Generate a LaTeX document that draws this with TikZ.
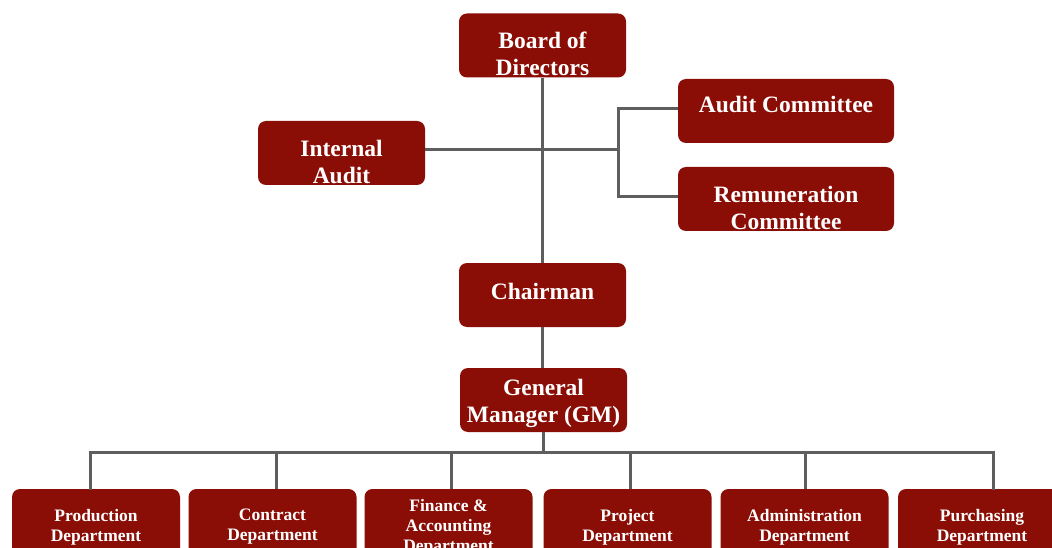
\documentclass[tikz,border=0pt]{standalone}
\usepackage{fontspec}
\setmainfont{Liberation Serif}
\usepackage{tikz}
\usetikzlibrary{}
\definecolor{boxred}{HTML}{8A0E06}
\definecolor{linkgray}{HTML}{5E5E5E}
\tikzset{
	unit/.style={fill=boxred,draw=none,rounded corners=8pt,text=white,align=center,inner sep=0pt,
		font=\fontsize{23.5}{27}\selectfont\bfseries,minimum width=167pt,minimum height=64pt},
	dept/.style={unit,font=\fontsize{17.5}{20}\selectfont\bfseries,minimum width=168pt,minimum height=76pt},
	lowtext/.style={text height=#1,text depth=0pt},
	link/.style={draw=linkgray,line width=3pt}
}
\begin{document}
\begin{tikzpicture}[x=1pt,y=-1pt]
		\clip (0,0) rectangle (1052,548);
		\fill[white] (0,0) rectangle (1052,548);
		
		\node[unit,lowtext=61pt] (board) at (542.5,45.5) {Board of\\Directors};
		\node[unit,lowtext=61pt] (intaudit) at (341.5,153) {Internal\\Audit};
		\node[unit,minimum width=216pt,text depth=14pt] (auditcom) at (786,111) {Audit Committee};
		\node[unit,minimum width=216pt,lowtext=61pt] (remcom) at (786,199) {Remuneration\\Committee};
		\node[unit,text depth=8pt] (chair) at (542.5,295) {Chairman};
		\node[unit,lowtext=44pt] (gm) at (543.5,400) {General\\Manager (GM)};
		
		\node[dept] (prod) at (96,527) {Production\\Department};
		\node[dept] (contract) at (272.5,527) {Contract\\Department};
		\node[dept] (finance) at (448.5,527) {Finance \&\\Accounting\\Department};
		\node[dept] (project) at (627.5,527) {Project\\Department};
		\node[dept] (admin) at (804.5,527) {Administration\\Department};
		\node[dept] (purch) at (982,527) {Purchasing\\Department};
		
		\coordinate (fork) at (618,150);
		\coordinate (bus) at (543,452);
		
		\draw[link] (board.south) -- (board.south |- chair.north);
		\draw[link] (chair.south) -- (chair.south |- gm.north);
		\draw[link] ([yshift=3pt]intaudit.east) -- (fork);
		\draw[link] ([yshift=2pt]auditcom.west) -| (fork) |- ([yshift=2pt]remcom.west);
		
		\draw[link] (gm.south) -- (gm.south |- bus);
		\draw[link,line cap=rect] ([xshift=-6pt]prod.north) |- ([xshift=11pt]purch.north |- bus) -- ([xshift=11pt]purch.north);
		\draw[link] ([xshift=4pt]contract.north) -- ++(0,-37);
		\draw[link] ([xshift=2.5pt]finance.north) -- ++(0,-37);
		\draw[link] ([xshift=2.5pt]project.north) -- ++(0,-37);
		\draw[link] ([xshift=0.5pt]admin.north) -- ++(0,-37);
	\end{tikzpicture}
\end{document}
